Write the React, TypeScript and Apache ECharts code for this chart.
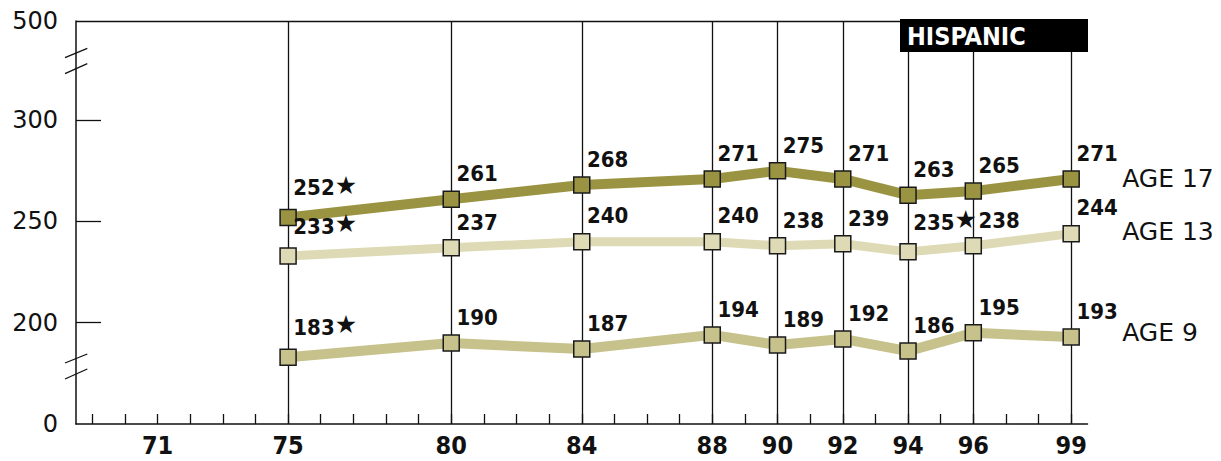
import React, { useEffect, useRef } from "react";
import * as echarts from "echarts";

const years = [75, 80, 84, 88, 90, 92, 94, 96, 99];
const yearLabels = [71, 75, 80, 84, 88, 90, 92, 94, 96, 99];
const minorTickYears = [69, 70, 71, 72, 73, 74, 75, 76, 77, 78, 79, 80, 81, 82, 83, 84, 85, 86, 87, 88, 89, 90, 91, 92, 93, 94, 95, 96, 97, 98, 99];
const age17 = [252, 261, 268, 271, 275, 271, 263, 265, 271];
const age13 = [233, 237, 240, 240, 238, 239, 235, 238, 244];
const age9 = [183, 190, 187, 194, 189, 192, 186, 195, 193];
const age17Star = [true, false, false, false, false, false, false, false, false];
const age13Star = [true, false, false, false, false, false, true, false, false];
const age9Star = [true, false, false, false, false, false, false, false, false];
const seriesNames = ["AGE 17", "AGE 13", "AGE 9"];
const yTickLabels: Record<number, string> = { 150: "0", 200: "200", 250: "250", 300: "300", 349: "500" };

const NARROW = '"DejaVu Sans Condensed", "Liberation Sans Narrow", sans-serif';
const SANS = '"DejaVu Sans", "Noto Sans", sans-serif';

function makeSeries(name: string, values: number[], stars: boolean[], color: string, width: number, extra: any = {}) {
  return {
    name,
    type: "line",
    data: years.map((y, i) => [y, values[i]]),
    symbol: "rect",
    symbolSize: 16,
    lineStyle: { color, width },
    itemStyle: { color, borderColor: "#1a1a1a", borderWidth: 1.5 },
    z: 3,
    label: {
      show: true,
      position: [14, -6],
      align: "left",
      verticalAlign: "bottom",
      formatter: (p: any) => (stars[p.dataIndex] ? `{v|${p.value[1]}}{s|★}` : `{v|${p.value[1]}}`),
      rich: {
        v: { fontFamily: NARROW, fontSize: 22, fontWeight: "bold", color: "#111" },
        s: { fontFamily: SANS, fontSize: 25, color: "#111", padding: [0, 0, 5, 0] },
      },
    },
    endLabel: {
      show: true,
      formatter: name,
      distance: 51,
      fontFamily: SANS,
      fontSize: 25,
      color: "#111",
      ...(extra.endOffset ? { offset: extra.endOffset } : {}),
    },
    ...(extra.markLine ? { markLine: extra.markLine } : {}),
  };
}

export default function App() {
  const ref = useRef<HTMLDivElement>(null);
  useEffect(() => {
    if (!ref.current) return;
    const chart = echarts.init(ref.current, null, { renderer: "svg" });
    const lineStyle = { color: "#111", width: 1.3, type: "solid" };
    chart.setOption({
      animation: false,
      backgroundColor: "#fff",
      grid: { left: 76, right: 133.5, top: 21, bottom: 37 },
      xAxis: {
        type: "value",
        min: 68.5,
        max: 99.5,
        axisLine: { show: true, lineStyle: { color: "#111", width: 1.5 } },
        axisTick: { show: true, inside: true, length: 10, customValues: minorTickYears, lineStyle: { color: "#111", width: 1.3 } },
        axisLabel: {
          show: true,
          customValues: yearLabels,
          formatter: (v: number) => String(v),
          margin: 9,
          fontFamily: NARROW,
          fontWeight: "bold",
          fontSize: 25,
          lineHeight: 25,
          color: "#111",
        },
        splitLine: { show: false },
      },
      yAxis: {
        type: "value",
        min: 150,
        max: 349,
        axisLine: { show: true, lineStyle: { color: "#111", width: 1.5 } },
        axisTick: { show: true, inside: true, length: 25, customValues: [200, 250, 300], lineStyle: { color: "#111", width: 1.3 } },
        axisLabel: {
          show: true,
          customValues: [150, 200, 250, 300, 349],
          formatter: (v: number) => yTickLabels[v] ?? "",
          margin: 18,
          fontFamily: SANS,
          fontSize: 24,
          color: "#111",
        },
        splitLine: { show: false },
      },
      graphic: [
        { type: "line", shape: { x1: 65, y1: 57.7, x2: 87.3, y2: 48.3 }, style: { stroke: "#111", lineWidth: 1.3 } },
        { type: "line", shape: { x1: 65, y1: 73.7, x2: 87.3, y2: 63.7 }, style: { stroke: "#111", lineWidth: 1.3 } },
        { type: "line", shape: { x1: 65, y1: 363, x2: 87.3, y2: 354 }, style: { stroke: "#111", lineWidth: 1.3 } },
        { type: "line", shape: { x1: 65, y1: 379, x2: 87.3, y2: 369 }, style: { stroke: "#111", lineWidth: 1.3 } },
        { type: "rect", shape: { x: 900, y: 19, width: 188, height: 33 }, style: { fill: "#000" }, z: 10 },
        {
          type: "text",
          x: 907,
          y: 36,
          z: 11,
          style: { text: "HISPANIC", fill: "#fff", font: `bold 25px ${NARROW}`, verticalAlign: "middle" },
        },
      ],
      series: [
        makeSeries(seriesNames[0], age17, age17Star, "#9a9442", 10, {
          markLine: {
            silent: true,
            symbol: "none",
            label: { show: false },
            lineStyle,
            z: 1,
            data: [...years.map((y) => ({ xAxis: y })), { yAxis: 349 }],
          },
        }),
        makeSeries(seriesNames[1], age13, age13Star, "#dddab5", 9, { endOffset: [0, -2] }),
        makeSeries(seriesNames[2], age9, age9Star, "#c7c28b", 10, { endOffset: [0, -4] }),
      ],
    });
    return () => chart.dispose();
  }, []);
  return <div ref={ref} style={{ position: "fixed", left: 0, top: 0, width: 1221, height: 461 }} />;
}
